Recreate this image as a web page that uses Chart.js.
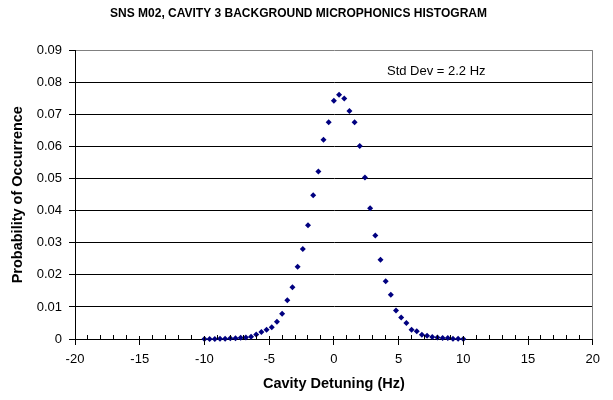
<!DOCTYPE html>
<html>
<head>
<meta charset="utf-8">
<script src="https://cdn.jsdelivr.net/npm/chart.js@4"></script>
<style>
  body { margin: 0; background: #fff; }
  canvas { display: block; }
</style>
</head>
<body>
<canvas id="chart" width="613" height="400"></canvas>
<script>
const detuning = [
  -10, -9.6, -9.2, -8.8, -8.4, -8, -7.6, -7.2, -6.8, -6.4,
  -6, -5.6, -5.2, -4.8, -4.4, -4, -3.6, -3.2, -2.8, -2.4,
  -2, -1.6, -1.2, -0.8, -0.4, 0, 0.4, 0.8, 1.2, 1.6,
  2, 2.4, 2.8, 3.2, 3.6, 4, 4.4, 4.8, 5.2, 5.6,
  6, 6.4, 6.8, 7.2, 7.6, 8, 8.4, 8.8, 9.2, 9.6, 10
];
const probability = [
  0, 0, 0, 0.0001, 0.0001, 0.0002, 0.0002, 0.0004, 0.0005, 0.0007,
  0.0014, 0.0022, 0.0029, 0.0037, 0.0054, 0.0079, 0.0121, 0.0161, 0.0225, 0.0281,
  0.0355, 0.0448, 0.0522, 0.0621, 0.0676, 0.0743, 0.0762, 0.0750, 0.0711, 0.0676,
  0.0602, 0.0504, 0.0408, 0.0323, 0.0247, 0.0180, 0.0138, 0.0089, 0.0067, 0.0050,
  0.0029, 0.0024, 0.0013, 0.0010, 0.0006, 0.0005, 0.0003, 0.0003, 0.0001, 0.0001, 0
];
const xTicks = [-20, -15, -10, -5, 0, 5, 10, 15, 20];
const yTicks = [0, 0.01, 0.02, 0.03, 0.04, 0.05, 0.06, 0.07, 0.08, 0.09];
const stdDevLabel = "Std Dev = 2.2 Hz";

const FONT = "'Liberation Sans', Arial, sans-serif";

// excel-ish axis decorations: minor ticks inside, major ticks crossing, grey frame, note text
const decor = {
  id: "decor",
  afterDraw(c) {
    const { ctx, chartArea: a, scales: { x, y } } = c;
    ctx.save();
    ctx.strokeStyle = "#000";
    ctx.lineWidth = 1;
    ctx.beginPath();
    for (let v = xTicks[0]; v <= xTicks[xTicks.length - 1]; v++) {
      const px = Math.floor(x.getPixelForValue(v)) + 0.5;
      if (xTicks.includes(v)) {
        ctx.moveTo(px, a.bottom - 3);
        ctx.lineTo(px, a.bottom + 6);
      } else {
        ctx.moveTo(px, a.bottom - 4);
        ctx.lineTo(px, a.bottom);
      }
    }
    ctx.stroke();
    ctx.strokeStyle = "#808080";
    ctx.beginPath();
    const rx = Math.floor(a.right) + 0.5;
    ctx.moveTo(rx, a.top);
    ctx.lineTo(rx, a.bottom);
    ctx.stroke();
    ctx.fillStyle = "#000";
    ctx.font = "13px " + FONT;
    ctx.textAlign = "left";
    ctx.textBaseline = "middle";
    ctx.fillText(stdDevLabel, x.getPixelForValue(4.1), y.getPixelForValue(0.0833));
    ctx.restore();
  },
};

new Chart(document.getElementById("chart"), {
  type: "scatter",
  data: {
    datasets: [{
      data: detuning.map((d, i) => ({ x: d, y: probability[i] })),
      pointStyle: "rectRot",
      pointRadius: 3,
      pointBackgroundColor: "#000080",
      pointBorderColor: "#000080",
      pointBorderWidth: 0,
      clip: false,
    }],
  },
  options: {
    responsive: false,
    animation: false,
    events: [],
    layout: { padding: { left: 0, right: 16, top: 0, bottom: 0 } },
    plugins: {
      legend: { display: false },
      tooltip: { enabled: false },
      title: {
        display: true,
        text: "SNS M02, CAVITY 3 BACKGROUND MICROPHONICS HISTOGRAM",
        color: "#000",
        font: { family: FONT, size: 12, weight: "bold" },
        padding: { top: 6, bottom: 30 },
      },
    },
    scales: {
      x: {
        type: "linear",
        min: -20,
        max: 20,
        afterBuildTicks: (s) => { s.ticks = xTicks.map((v) => ({ value: v })); },
        afterFit: (s) => { s.height = 61; },
        ticks: {
          color: "#000",
          font: { family: FONT, size: 13 },
          padding: 13,
          maxRotation: 0,
        },
        grid: { display: false, drawTicks: false },
        border: { display: true, color: "#000" },
        title: {
          display: true,
          text: "Cavity Detuning (Hz)",
          color: "#000",
          font: { family: FONT, size: 14.5, weight: "bold" },
          padding: { top: 0, bottom: 7 },
        },
      },
      y: {
        min: 0,
        max: 0.09,
        afterBuildTicks: (s) => { s.ticks = yTicks.map((v) => ({ value: v })); },
        afterFit: (s) => { s.width = 75; },
        ticks: {
          color: "#000",
          font: { family: FONT, size: 13 },
          padding: 7,
          callback: (v) => (v === 0 ? "0" : v.toFixed(2)),
        },
        grid: {
          color: (ctx) => (ctx.index === yTicks.length - 1 ? "#808080" : "#000"),
          tickColor: "#000",
          tickLength: 6,
          lineWidth: 1,
        },
        border: { display: true, color: "#000" },
        title: {
          display: true,
          text: "Probability of Occurrence",
          color: "#000",
          font: { family: FONT, size: 14.5, weight: "bold" },
          padding: { top: 9, bottom: 0 },
        },
      },
    },
  },
  plugins: [decor],
});
</script>
</body>
</html>
